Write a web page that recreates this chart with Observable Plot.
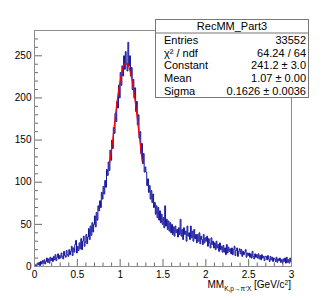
<!DOCTYPE html>
<html><head><meta charset="utf-8">
<script src="https://cdn.jsdelivr.net/npm/d3@7"></script>
<script src="https://cdn.jsdelivr.net/npm/@observablehq/plot@0.6"></script>
<style>body{margin:0;background:#fff;} svg{display:block;}</style>
</head><body><div id="chart"></div>
<script>
// ---- data ----
const binStart = 0, binWidth = 0.01;
const counts = [
  0, 2, 1, 4, 2, 5, 1, 6, 3, 7,
  4, 8, 3, 6, 10, 5, 9, 4, 11, 7,
  10, 6, 12, 8, 14, 7, 11, 15, 9, 13,
  10, 16, 12, 9, 18, 13, 11, 19, 14, 12,
  20, 14, 18, 24, 13, 22, 17, 26, 31, 16,
  24, 19, 28, 21, 33, 20, 30, 36, 24, 29,
  38, 27, 35, 45, 32, 48, 37, 52, 41, 50,
  60, 47, 64, 55, 72, 66, 78, 70, 88, 80,
  95, 86, 102, 94, 115, 108, 124, 114, 138, 126,
  150, 140, 165, 158, 182, 172, 196, 188, 215, 200,
  230, 215, 238, 226, 250, 234, 255, 240, 232, 266,
  238, 250, 226, 236, 210, 222, 200, 212, 184, 196,
  168, 180, 152, 160, 134, 146, 122, 134, 112, 118,
  112, 96, 104, 88, 96, 80, 90, 76, 86, 70,
  76, 62, 72, 58, 70, 55, 66, 52, 62, 50,
  58, 46, 72, 48, 56, 44, 54, 42, 52, 40,
  50, 38, 47, 36, 48, 40, 44, 35, 46, 38,
  56, 36, 44, 32, 46, 38, 42, 30, 48, 36,
  40, 32, 48, 34, 42, 30, 44, 33, 38, 28,
  38, 30, 40, 27, 36, 32, 26, 38, 28, 34,
  30, 36, 24, 33, 28, 22, 34, 26, 30, 22,
  28, 20, 30, 22, 26, 18, 28, 20, 24, 17,
  25, 17, 22, 14, 26, 16, 23, 18, 21, 15,
  22, 14, 20, 24, 13, 19, 22, 12, 18, 21,
  15, 20, 12, 18, 14, 17, 20, 11, 16, 13,
  16, 11, 15, 10, 18, 12, 9, 15, 11, 14,
  10, 15, 9, 13, 8, 14, 10, 12, 7, 12,
  12, 8, 13, 9, 6, 12, 8, 11, 6, 10,
  9, 6, 11, 5, 9, 7, 10, 5, 8, 4,
  9, 6, 10, 4, 11, 5, 8, 4, 10, 6
];
const fitX = [0.875, 0.9, 0.925, 0.95, 0.975, 1.0, 1.025, 1.05, 1.07, 1.09, 1.115, 1.14, 1.165, 1.19, 1.215, 1.24, 1.257];
const fitY = [122, 139, 161, 184, 204, 220, 233, 240, 241, 240, 232, 220, 204, 184, 162, 140, 125];
const xMajorTicks = [0, 0.5, 1, 1.5, 2, 2.5, 3];
const xTickLabels = ["0", "0.5", "1", "1.5", "2", "2.5", "3"];
const yMajorTicks = [0, 50, 100, 150, 200, 250];
const yTickLabels = ["0", "50", "100", "150", "200", "250"];
const histTitle = "RecMM_Part3";
const statLabels = ["Entries", "χ² / ndf", "Constant", "Mean", "Sigma"];
const statValues = ["33552", "64.24 / 64", "241.2 ± 3.0", "1.07 ± 0.00", "0.1626 ± 0.0036"];

// ---- build tables ----
const histPts = counts.map((c, i) => ({x: binStart + i * binWidth, y: c}));
histPts.push({x: binStart + counts.length * binWidth, y: counts[counts.length - 1]});
const fitPts = fitX.map((x, i) => ({x, y: fitY[i]}));
const xMinor = d3.range(0, 31).map(i => i / 10).filter(v => !xMajorTicks.some(t => Math.abs(t - v) < 1e-9));
const yMinor = d3.range(0, 28).map(i => i * 10).filter(v => v % 50 !== 0);

const W = 327, H = 300, mL = 34, mR = 36, mT = 30, mB = 34;
const plotW = W - mL - mR, plotH = H - mT - mB;
const font = "'Liberation Sans', Arial, Helvetica, sans-serif";
const tickColor = "#6a6a6a";

const chart = Plot.plot({
  width: W, height: H,
  marginLeft: mL, marginRight: mR, marginTop: mT, marginBottom: mB,
  style: {fontFamily: font, fontSize: "10px", background: "#fff", color: "#000", overflow: "visible"},
  x: {domain: [0, 3], label: null},
  y: {domain: [0, 280], label: null},
  marks: [
    Plot.line(histPts, {x: "x", y: "y", curve: "step-after", stroke: "#12129c", strokeWidth: 1}),
    Plot.line(fitPts, {x: "x", y: "y", curve: "natural", stroke: "#ff0000", strokeWidth: 1.2}),
    Plot.ruleX(xMajorTicks, {stroke: tickColor, insetTop: plotH - 7}),
    Plot.ruleX(xMinor, {stroke: tickColor, insetTop: plotH - 3.5}),
    Plot.ruleY(yMajorTicks, {stroke: tickColor, insetRight: plotW - 8}),
    Plot.ruleY(yMinor, {stroke: tickColor, insetRight: plotW - 4}),
    Plot.frame({stroke: "#8c8c8c"}),
    Plot.axisX({ticks: xMajorTicks, tickSize: 0, tickPadding: 4, fontSize: 10,
      tickFormat: d => xTickLabels[xMajorTicks.indexOf(d)]}),
    Plot.axisY({ticks: yMajorTicks, tickSize: 0, tickPadding: 3, fontSize: 10,
      tickFormat: d => yTickLabels[yMajorTicks.indexOf(d)]})
  ]
});
document.getElementById("chart").appendChild(chart);

const svg = d3.select(chart);

// axis title
const t = svg.append("text")
  .attr("x", mL + plotW).attr("y", 288)
  .attr("text-anchor", "end")
  .attr("font-family", font).attr("font-size", 10).attr("fill", "#000");
t.append("tspan").text("MM");
t.append("tspan").attr("font-size", 6.5).attr("dy", 3).text("K,p→π⁺X");
t.append("tspan").attr("dy", -3).text(" [GeV/c");
t.append("tspan").attr("font-size", 6.5).attr("dy", -3).text("2");
t.append("tspan").attr("dy", 3).text("]");

// stats box
const bx = 155, by = 19, bw = 153, bh = 78;
const g = svg.append("g").attr("font-family", font).attr("font-size", 11).attr("fill", "#000");
g.append("rect").attr("x", bx + 0.5).attr("y", by + 0.5).attr("width", bw).attr("height", bh)
  .attr("fill", "#fff").attr("stroke", "#777");
g.append("line").attr("x1", bx + 0.5).attr("x2", bx + bw + 0.5).attr("y1", 33).attr("y2", 33).attr("stroke", "#777");
g.append("text").attr("x", bx + bw / 2 + 0.5).attr("y", 26.5).attr("dy", "0.35em")
  .attr("text-anchor", "middle").text(histTitle);
statLabels.forEach((lab, i) => {
  const yy = 40 + i * 12.8;
  g.append("text").attr("x", 164).attr("y", yy).attr("dy", "0.35em").attr("text-anchor", "start").text(lab);
  g.append("text").attr("x", 306).attr("y", yy).attr("dy", "0.35em").attr("text-anchor", "end").text(statValues[i]);
});
</script>
</body></html>
